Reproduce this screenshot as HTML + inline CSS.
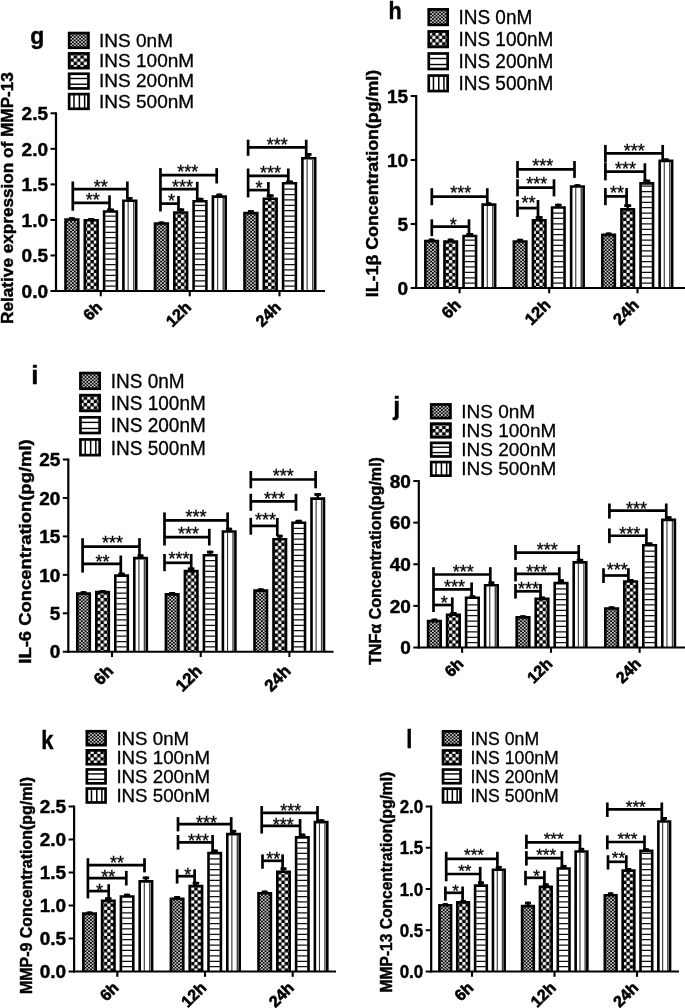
<!DOCTYPE html>
<html lang="en">
<head>
<meta charset="utf-8">
<title>Figure panels g-l: INS dose and time response</title>
<style>
html,body{margin:0;padding:0;background:#fff;}
body{width:685px;height:1008px;overflow:hidden;}
svg{display:block;will-change:transform;}
svg text{font-family:"Liberation Sans",sans-serif;fill:#000;}
</style>
</head>
<body>
<svg width="685" height="1008" viewBox="0 0 685 1008">
<defs>
<pattern id="p1" width="3.6" height="3.3" patternUnits="userSpaceOnUse">
<rect width="3.6" height="3.3" fill="#000"/>
<rect x="0.1" y="0.1" width="1.6" height="1.45" fill="#fff"/>
<rect x="1.9" y="1.75" width="1.6" height="1.45" fill="#fff"/>
</pattern>
<pattern id="p2" width="6.7" height="6.5" patternUnits="userSpaceOnUse">
<rect width="6.7" height="6.5" fill="#000"/>
<rect x="0.1" y="0.1" width="3.15" height="3.05" fill="#fff"/>
<rect x="3.45" y="3.35" width="3.15" height="3.05" fill="#fff"/>
</pattern>
</defs>
<rect width="685" height="1008" fill="#fff"/>
<g id="panel-g">
<text transform="translate(30.2 44.1) scale(1.0 1)" font-size="23" font-weight="bold" stroke="#000" stroke-width="0.4">g</text>
<rect x="69.15" y="33.05" width="19.3" height="14.7" fill="url(#p1)" stroke="#000" stroke-width="2.7"/>
<text x="99.1" y="46.6" font-size="19" stroke="#000" stroke-width="0.3">INS 0nM</text>
<rect x="69.15" y="53.4" width="19.3" height="14.7" fill="url(#p2)" stroke="#000" stroke-width="2.7"/>
<text x="99.1" y="66.95" font-size="19" stroke="#000" stroke-width="0.3">INS 100nM</text>
<rect x="69.15" y="73.75" width="19.3" height="14.7" fill="#fff" stroke="#000" stroke-width="2.7"/>
<line x1="68.8" y1="78.49" x2="88.8" y2="78.49" stroke="#000" stroke-width="1.4"/>
<line x1="68.8" y1="84.23" x2="88.8" y2="84.23" stroke="#000" stroke-width="1.4"/>
<text x="99.1" y="87.3" font-size="19" stroke="#000" stroke-width="0.3">INS 200nM</text>
<rect x="69.15" y="94.1" width="19.3" height="14.7" fill="#fff" stroke="#000" stroke-width="2.7"/>
<line x1="73.96" y1="93.75" x2="73.96" y2="109.15" stroke="#000" stroke-width="1.5"/>
<line x1="79.39" y1="93.75" x2="79.39" y2="109.15" stroke="#000" stroke-width="1.5"/>
<line x1="84.63" y1="93.75" x2="84.63" y2="109.15" stroke="#000" stroke-width="1.5"/>
<text x="99.1" y="107.65" font-size="19" stroke="#000" stroke-width="0.3">INS 500nM</text>
<path d="M65.5 291V219.5H78.3V291" fill="url(#p1)" stroke="#000" stroke-width="2.6" stroke-linejoin="miter"/>
<line x1="71.9" y1="217.2" x2="71.9" y2="219.2" stroke="#000" stroke-width="2.5"/>
<line x1="68.9" y1="218.6" x2="74.9" y2="218.6" stroke="#000" stroke-width="2.8"/>
<path d="M84.8 291V220.3H97.6V291" fill="url(#p2)" stroke="#000" stroke-width="2.6" stroke-linejoin="miter"/>
<line x1="91.2" y1="218" x2="91.2" y2="220" stroke="#000" stroke-width="2.5"/>
<line x1="88.2" y1="219.4" x2="94.2" y2="219.4" stroke="#000" stroke-width="2.8"/>
<path d="M104.1 291V211.5H116.9V291" fill="#fff" stroke="#000" stroke-width="2.6" stroke-linejoin="miter"/>
<path d="M105.2 286.15H115.8M105.2 280.76H115.8M105.2 275.37H115.8M105.2 269.98H115.8M105.2 264.59H115.8M105.2 259.2H115.8M105.2 253.81H115.8M105.2 248.42H115.8M105.2 243.03H115.8M105.2 237.64H115.8M105.2 232.25H115.8M105.2 226.86H115.8M105.2 221.47H115.8M105.2 216.08H115.8" stroke="#111" stroke-width="1.25" fill="none"/>
<line x1="110.5" y1="208.5" x2="110.5" y2="211.2" stroke="#000" stroke-width="2.5"/>
<line x1="107" y1="209.9" x2="114" y2="209.9" stroke="#000" stroke-width="2.8"/>
<path d="M123.4 291V200.8H136.2V291" fill="#fff" stroke="#000" stroke-width="2.6" stroke-linejoin="miter"/>
<path d="M128.14 201.9V291" stroke="#333" stroke-width="1.1" fill="none"/>
<path d="M133.73 201.9V291" stroke="#444" stroke-width="1.4" fill="none"/>
<line x1="129.8" y1="197" x2="129.8" y2="200.5" stroke="#000" stroke-width="2.5"/>
<line x1="127.05" y1="198.4" x2="132.55" y2="198.4" stroke="#000" stroke-width="2.8"/>
<path d="M155 291V223.5H167.8V291" fill="url(#p1)" stroke="#000" stroke-width="2.6" stroke-linejoin="miter"/>
<line x1="161.4" y1="221.5" x2="161.4" y2="223.2" stroke="#000" stroke-width="2.5"/>
<line x1="158.4" y1="222.9" x2="164.4" y2="222.9" stroke="#000" stroke-width="2.8"/>
<path d="M174.3 291V212.5H187.1V291" fill="url(#p2)" stroke="#000" stroke-width="2.6" stroke-linejoin="miter"/>
<line x1="180.7" y1="208.3" x2="180.7" y2="212.2" stroke="#000" stroke-width="2.5"/>
<line x1="177.2" y1="209.7" x2="184.2" y2="209.7" stroke="#000" stroke-width="2.8"/>
<path d="M193.6 291V201.3H206.4V291" fill="#fff" stroke="#000" stroke-width="2.6" stroke-linejoin="miter"/>
<path d="M194.7 286.15H205.3M194.7 280.76H205.3M194.7 275.37H205.3M194.7 269.98H205.3M194.7 264.59H205.3M194.7 259.2H205.3M194.7 253.81H205.3M194.7 248.42H205.3M194.7 243.03H205.3M194.7 237.64H205.3M194.7 232.25H205.3M194.7 226.86H205.3M194.7 221.47H205.3M194.7 216.08H205.3M194.7 210.69H205.3M194.7 205.3H205.3" stroke="#111" stroke-width="1.25" fill="none"/>
<line x1="200" y1="197.8" x2="200" y2="201" stroke="#000" stroke-width="2.5"/>
<line x1="196.5" y1="199.2" x2="203.5" y2="199.2" stroke="#000" stroke-width="2.8"/>
<path d="M212.9 291V196.6H225.7V291" fill="#fff" stroke="#000" stroke-width="2.6" stroke-linejoin="miter"/>
<path d="M217.64 197.7V291" stroke="#333" stroke-width="1.1" fill="none"/>
<path d="M223.23 197.7V291" stroke="#444" stroke-width="1.4" fill="none"/>
<line x1="219.3" y1="193.6" x2="219.3" y2="196.3" stroke="#000" stroke-width="2.5"/>
<line x1="216.3" y1="195" x2="222.3" y2="195" stroke="#000" stroke-width="2.8"/>
<path d="M244.5 291V213.1H257.3V291" fill="url(#p1)" stroke="#000" stroke-width="2.6" stroke-linejoin="miter"/>
<line x1="250.9" y1="210" x2="250.9" y2="212.8" stroke="#000" stroke-width="2.5"/>
<line x1="247.9" y1="211.4" x2="253.9" y2="211.4" stroke="#000" stroke-width="2.8"/>
<path d="M263.8 291V198.8H276.6V291" fill="url(#p2)" stroke="#000" stroke-width="2.6" stroke-linejoin="miter"/>
<line x1="270.2" y1="194.3" x2="270.2" y2="198.5" stroke="#000" stroke-width="2.5"/>
<line x1="266.7" y1="195.7" x2="273.7" y2="195.7" stroke="#000" stroke-width="2.8"/>
<path d="M283.1 291V183.3H295.9V291" fill="#fff" stroke="#000" stroke-width="2.6" stroke-linejoin="miter"/>
<path d="M284.2 286.15H294.8M284.2 280.76H294.8M284.2 275.37H294.8M284.2 269.98H294.8M284.2 264.59H294.8M284.2 259.2H294.8M284.2 253.81H294.8M284.2 248.42H294.8M284.2 243.03H294.8M284.2 237.64H294.8M284.2 232.25H294.8M284.2 226.86H294.8M284.2 221.47H294.8M284.2 216.08H294.8M284.2 210.69H294.8M284.2 205.3H294.8M284.2 199.91H294.8M284.2 194.52H294.8M284.2 189.13H294.8" stroke="#111" stroke-width="1.25" fill="none"/>
<line x1="289.5" y1="180.5" x2="289.5" y2="183" stroke="#000" stroke-width="2.5"/>
<line x1="286" y1="181.9" x2="293" y2="181.9" stroke="#000" stroke-width="2.8"/>
<path d="M302.4 291V158.3H315.2V291" fill="#fff" stroke="#000" stroke-width="2.6" stroke-linejoin="miter"/>
<path d="M307.14 159.4V291" stroke="#333" stroke-width="1.1" fill="none"/>
<path d="M312.73 159.4V291" stroke="#444" stroke-width="1.4" fill="none"/>
<line x1="308.8" y1="153" x2="308.8" y2="158" stroke="#000" stroke-width="2.5"/>
<line x1="306.05" y1="154.4" x2="311.55" y2="154.4" stroke="#000" stroke-width="2.8"/>
<line x1="56" y1="112.3" x2="56" y2="292" stroke="#000" stroke-width="2.2"/>
<line x1="55" y1="291" x2="325" y2="291" stroke="#000" stroke-width="2.2"/>
<line x1="50.5" y1="291" x2="56" y2="291" stroke="#000" stroke-width="2"/>
<text x="48" y="297.7" font-size="19" font-weight="bold" stroke="#000" stroke-width="0.45" text-anchor="end">0.0</text>
<line x1="50.5" y1="255.46" x2="56" y2="255.46" stroke="#000" stroke-width="2"/>
<text x="48" y="262.16" font-size="19" font-weight="bold" stroke="#000" stroke-width="0.45" text-anchor="end">0.5</text>
<line x1="50.5" y1="219.92" x2="56" y2="219.92" stroke="#000" stroke-width="2"/>
<text x="48" y="226.62" font-size="19" font-weight="bold" stroke="#000" stroke-width="0.45" text-anchor="end">1.0</text>
<line x1="50.5" y1="184.38" x2="56" y2="184.38" stroke="#000" stroke-width="2"/>
<text x="48" y="191.08" font-size="19" font-weight="bold" stroke="#000" stroke-width="0.45" text-anchor="end">1.5</text>
<line x1="50.5" y1="148.84" x2="56" y2="148.84" stroke="#000" stroke-width="2"/>
<text x="48" y="155.54" font-size="19" font-weight="bold" stroke="#000" stroke-width="0.45" text-anchor="end">2.0</text>
<line x1="50.5" y1="113.3" x2="56" y2="113.3" stroke="#000" stroke-width="2"/>
<text x="48" y="120" font-size="19" font-weight="bold" stroke="#000" stroke-width="0.45" text-anchor="end">2.5</text>
<line x1="100.75" y1="291" x2="100.75" y2="296.3" stroke="#000" stroke-width="2.1"/>
<text x="103.05" y="308.3" font-size="16" font-weight="bold" stroke="#000" stroke-width="0.6" text-anchor="end" transform="rotate(-45 103.05 308.3)">6h</text>
<line x1="189.75" y1="291" x2="189.75" y2="296.3" stroke="#000" stroke-width="2.1"/>
<text x="192.05" y="308.3" font-size="16" font-weight="bold" stroke="#000" stroke-width="0.6" text-anchor="end" transform="rotate(-45 192.05 308.3)">12h</text>
<line x1="279.5" y1="291" x2="279.5" y2="296.3" stroke="#000" stroke-width="2.1"/>
<text x="281.8" y="308.3" font-size="16" font-weight="bold" stroke="#000" stroke-width="0.6" text-anchor="end" transform="rotate(-45 281.8 308.3)">24h</text>
<text x="12.9" y="198" font-size="17" font-weight="bold" stroke="#000" stroke-width="0.45" text-anchor="middle" transform="rotate(-90 12.9 198)" textLength="251.8" lengthAdjust="spacingAndGlyphs">Relative expression of MMP-13</text>
<line x1="72.8" y1="189.2" x2="127.35" y2="189.2" stroke="#000" stroke-width="2.7"/>
<line x1="72.8" y1="181.5" x2="72.8" y2="210.7" stroke="#000" stroke-width="2.7"/>
<line x1="127.35" y1="181.5" x2="127.35" y2="199.5" stroke="#000" stroke-width="2.7"/>
<text x="100.7" y="193" font-size="18" stroke="#000" stroke-width="0.3" text-anchor="middle">**</text>
<line x1="72.8" y1="202.8" x2="109.5" y2="202.8" stroke="#000" stroke-width="2.7"/>
<line x1="109.5" y1="195.3" x2="109.5" y2="210.4" stroke="#000" stroke-width="2.7"/>
<text x="92.8" y="206.4" font-size="18" stroke="#000" stroke-width="0.3" text-anchor="middle">**</text>
<line x1="160.45" y1="175.2" x2="216.7" y2="175.2" stroke="#000" stroke-width="2.7"/>
<line x1="160.45" y1="168.1" x2="160.45" y2="211.5" stroke="#000" stroke-width="2.7"/>
<line x1="216.7" y1="168.1" x2="216.7" y2="183.5" stroke="#000" stroke-width="2.7"/>
<text x="187.8" y="178.1" font-size="18" stroke="#000" stroke-width="0.3" text-anchor="middle">***</text>
<line x1="160.45" y1="189.2" x2="197.25" y2="189.2" stroke="#000" stroke-width="2.7"/>
<line x1="197.25" y1="181.8" x2="197.25" y2="200" stroke="#000" stroke-width="2.7"/>
<text x="182.4" y="192.6" font-size="18" stroke="#000" stroke-width="0.3" text-anchor="middle">***</text>
<line x1="160.45" y1="203.6" x2="178.5" y2="203.6" stroke="#000" stroke-width="2.7"/>
<line x1="178.5" y1="196" x2="178.5" y2="211" stroke="#000" stroke-width="2.7"/>
<text x="171.4" y="207.4" font-size="18" stroke="#000" stroke-width="0.3" text-anchor="middle">*</text>
<line x1="248.1" y1="147.3" x2="306.2" y2="147.3" stroke="#000" stroke-width="2.7"/>
<line x1="248.1" y1="139.7" x2="248.1" y2="155.8" stroke="#000" stroke-width="2.7"/>
<line x1="306.2" y1="139.7" x2="306.2" y2="157" stroke="#000" stroke-width="2.7"/>
<text x="277.2" y="151.2" font-size="18" stroke="#000" stroke-width="0.3" text-anchor="middle">***</text>
<line x1="248.1" y1="175.8" x2="288.3" y2="175.8" stroke="#000" stroke-width="2.7"/>
<line x1="248.1" y1="168.5" x2="248.1" y2="197.4" stroke="#000" stroke-width="2.7"/>
<line x1="288.3" y1="168.5" x2="288.3" y2="182" stroke="#000" stroke-width="2.7"/>
<text x="270.6" y="178.5" font-size="18" stroke="#000" stroke-width="0.3" text-anchor="middle">***</text>
<line x1="248.1" y1="190.1" x2="268.4" y2="190.1" stroke="#000" stroke-width="2.7"/>
<line x1="268.4" y1="182" x2="268.4" y2="197.5" stroke="#000" stroke-width="2.7"/>
<text x="258.9" y="194.3" font-size="18" stroke="#000" stroke-width="0.3" text-anchor="middle">*</text>
</g>
<g id="panel-h">
<text transform="translate(388.4 19) scale(0.9 1)" font-size="24" font-weight="bold" stroke="#000" stroke-width="0.4">h</text>
<rect x="428.75" y="9.35" width="18.9" height="15.5" fill="url(#p1)" stroke="#000" stroke-width="2.7"/>
<text transform="translate(458.4 24.1) scale(1.0 1.05)" font-size="19" stroke="#000" stroke-width="0.3">INS 0nM</text>
<rect x="428.75" y="31.42" width="18.9" height="15.5" fill="url(#p2)" stroke="#000" stroke-width="2.7"/>
<text transform="translate(458.4 46.17) scale(1.0 1.05)" font-size="19" stroke="#000" stroke-width="0.3">INS 100nM</text>
<rect x="428.75" y="53.49" width="18.9" height="15.5" fill="#fff" stroke="#000" stroke-width="2.7"/>
<line x1="428.4" y1="58.51" x2="448" y2="58.51" stroke="#000" stroke-width="1.4"/>
<line x1="428.4" y1="64.52" x2="448" y2="64.52" stroke="#000" stroke-width="1.4"/>
<text transform="translate(458.4 68.24) scale(1.0 1.05)" font-size="19" stroke="#000" stroke-width="0.3">INS 200nM</text>
<rect x="428.75" y="75.56" width="18.9" height="15.5" fill="#fff" stroke="#000" stroke-width="2.7"/>
<line x1="433.45" y1="75.21" x2="433.45" y2="91.41" stroke="#000" stroke-width="1.5"/>
<line x1="438.78" y1="75.21" x2="438.78" y2="91.41" stroke="#000" stroke-width="1.5"/>
<line x1="443.92" y1="75.21" x2="443.92" y2="91.41" stroke="#000" stroke-width="1.5"/>
<text transform="translate(458.4 90.31) scale(1.0 1.05)" font-size="19" stroke="#000" stroke-width="0.3">INS 500nM</text>
<path d="M425.35 288V241.1H437.85V288" fill="url(#p1)" stroke="#000" stroke-width="2.6" stroke-linejoin="miter"/>
<line x1="431.6" y1="238.6" x2="431.6" y2="240.8" stroke="#000" stroke-width="2.5"/>
<line x1="428.6" y1="240" x2="434.6" y2="240" stroke="#000" stroke-width="2.8"/>
<path d="M444.45 288V241.5H456.95V288" fill="url(#p2)" stroke="#000" stroke-width="2.6" stroke-linejoin="miter"/>
<line x1="450.7" y1="238.6" x2="450.7" y2="241.2" stroke="#000" stroke-width="2.5"/>
<line x1="447.7" y1="240" x2="453.7" y2="240" stroke="#000" stroke-width="2.8"/>
<path d="M463.55 288V236H476.05V288" fill="#fff" stroke="#000" stroke-width="2.6" stroke-linejoin="miter"/>
<path d="M464.65 283.15H474.95M464.65 277.76H474.95M464.65 272.37H474.95M464.65 266.98H474.95M464.65 261.59H474.95M464.65 256.2H474.95M464.65 250.81H474.95M464.65 245.42H474.95M464.65 240.03H474.95" stroke="#111" stroke-width="1.25" fill="none"/>
<line x1="469.8" y1="233" x2="469.8" y2="235.7" stroke="#000" stroke-width="2.5"/>
<line x1="466.3" y1="234.4" x2="473.3" y2="234.4" stroke="#000" stroke-width="2.8"/>
<path d="M482.65 288V204.6H495.15V288" fill="#fff" stroke="#000" stroke-width="2.6" stroke-linejoin="miter"/>
<path d="M487.27 205.7V288" stroke="#333" stroke-width="1.1" fill="none"/>
<path d="M492.75 205.7V288" stroke="#444" stroke-width="1.4" fill="none"/>
<line x1="488.9" y1="202.3" x2="488.9" y2="204.3" stroke="#000" stroke-width="2.5"/>
<line x1="486.4" y1="203.7" x2="491.4" y2="203.7" stroke="#000" stroke-width="2.8"/>
<path d="M513.85 288V241.5H526.35V288" fill="url(#p1)" stroke="#000" stroke-width="2.6" stroke-linejoin="miter"/>
<line x1="520.1" y1="238.8" x2="520.1" y2="241.2" stroke="#000" stroke-width="2.5"/>
<line x1="517.1" y1="240.2" x2="523.1" y2="240.2" stroke="#000" stroke-width="2.8"/>
<path d="M532.95 288V220.3H545.45V288" fill="url(#p2)" stroke="#000" stroke-width="2.6" stroke-linejoin="miter"/>
<line x1="539.2" y1="216.1" x2="539.2" y2="220" stroke="#000" stroke-width="2.5"/>
<line x1="535.7" y1="217.5" x2="542.7" y2="217.5" stroke="#000" stroke-width="2.8"/>
<path d="M552.05 288V207.5H564.55V288" fill="#fff" stroke="#000" stroke-width="2.6" stroke-linejoin="miter"/>
<path d="M553.15 283.15H563.45M553.15 277.76H563.45M553.15 272.37H563.45M553.15 266.98H563.45M553.15 261.59H563.45M553.15 256.2H563.45M553.15 250.81H563.45M553.15 245.42H563.45M553.15 240.03H563.45M553.15 234.64H563.45M553.15 229.25H563.45M553.15 223.86H563.45M553.15 218.47H563.45M553.15 213.08H563.45" stroke="#111" stroke-width="1.25" fill="none"/>
<line x1="558.3" y1="203.7" x2="558.3" y2="207.2" stroke="#000" stroke-width="2.5"/>
<line x1="555.05" y1="205.1" x2="561.55" y2="205.1" stroke="#000" stroke-width="2.8"/>
<path d="M571.15 288V186.5H583.65V288" fill="#fff" stroke="#000" stroke-width="2.6" stroke-linejoin="miter"/>
<path d="M575.77 187.6V288" stroke="#333" stroke-width="1.1" fill="none"/>
<path d="M581.25 187.6V288" stroke="#444" stroke-width="1.4" fill="none"/>
<line x1="577.4" y1="184.2" x2="577.4" y2="186.2" stroke="#000" stroke-width="2.5"/>
<line x1="574.4" y1="185.6" x2="580.4" y2="185.6" stroke="#000" stroke-width="2.8"/>
<path d="M602.35 288V234.9H614.85V288" fill="url(#p1)" stroke="#000" stroke-width="2.6" stroke-linejoin="miter"/>
<line x1="608.6" y1="232.5" x2="608.6" y2="234.6" stroke="#000" stroke-width="2.5"/>
<line x1="605.6" y1="233.9" x2="611.6" y2="233.9" stroke="#000" stroke-width="2.8"/>
<path d="M621.45 288V209.4H633.95V288" fill="url(#p2)" stroke="#000" stroke-width="2.6" stroke-linejoin="miter"/>
<line x1="627.7" y1="204.2" x2="627.7" y2="209.1" stroke="#000" stroke-width="2.5"/>
<line x1="624.2" y1="205.6" x2="631.2" y2="205.6" stroke="#000" stroke-width="2.8"/>
<path d="M640.55 288V183.4H653.05V288" fill="#fff" stroke="#000" stroke-width="2.6" stroke-linejoin="miter"/>
<path d="M641.65 283.15H651.95M641.65 277.76H651.95M641.65 272.37H651.95M641.65 266.98H651.95M641.65 261.59H651.95M641.65 256.2H651.95M641.65 250.81H651.95M641.65 245.42H651.95M641.65 240.03H651.95M641.65 234.64H651.95M641.65 229.25H651.95M641.65 223.86H651.95M641.65 218.47H651.95M641.65 213.08H651.95M641.65 207.69H651.95M641.65 202.3H651.95M641.65 196.91H651.95M641.65 191.52H651.95M641.65 186.13H651.95" stroke="#111" stroke-width="1.25" fill="none"/>
<line x1="646.8" y1="179.6" x2="646.8" y2="183.1" stroke="#000" stroke-width="2.5"/>
<line x1="643.3" y1="181" x2="650.3" y2="181" stroke="#000" stroke-width="2.8"/>
<path d="M659.65 288V160.9H672.15V288" fill="#fff" stroke="#000" stroke-width="2.6" stroke-linejoin="miter"/>
<path d="M664.27 162V288" stroke="#333" stroke-width="1.1" fill="none"/>
<path d="M669.75 162V288" stroke="#444" stroke-width="1.4" fill="none"/>
<line x1="665.9" y1="158.4" x2="665.9" y2="160.6" stroke="#000" stroke-width="2.5"/>
<line x1="662.9" y1="159.8" x2="668.9" y2="159.8" stroke="#000" stroke-width="2.8"/>
<line x1="416.2" y1="95" x2="416.2" y2="289" stroke="#000" stroke-width="2.2"/>
<line x1="415.2" y1="288" x2="686" y2="288" stroke="#000" stroke-width="2.2"/>
<line x1="410.7" y1="288" x2="416.2" y2="288" stroke="#000" stroke-width="2"/>
<text x="408.2" y="294.7" font-size="19" font-weight="bold" stroke="#000" stroke-width="0.45" text-anchor="end">0</text>
<line x1="410.7" y1="224" x2="416.2" y2="224" stroke="#000" stroke-width="2"/>
<text x="408.2" y="230.7" font-size="19" font-weight="bold" stroke="#000" stroke-width="0.45" text-anchor="end">5</text>
<line x1="410.7" y1="160" x2="416.2" y2="160" stroke="#000" stroke-width="2"/>
<text x="408.2" y="166.7" font-size="19" font-weight="bold" stroke="#000" stroke-width="0.45" text-anchor="end">10</text>
<line x1="410.7" y1="96" x2="416.2" y2="96" stroke="#000" stroke-width="2"/>
<text x="408.2" y="102.7" font-size="19" font-weight="bold" stroke="#000" stroke-width="0.45" text-anchor="end">15</text>
<line x1="459.6" y1="288" x2="459.6" y2="293.3" stroke="#000" stroke-width="2.1"/>
<text x="461.9" y="306" font-size="16.4" font-weight="bold" stroke="#000" stroke-width="0.6" text-anchor="end" transform="rotate(-45 461.9 306)">6h</text>
<line x1="549.2" y1="288" x2="549.2" y2="293.3" stroke="#000" stroke-width="2.1"/>
<text x="551.5" y="306" font-size="16.4" font-weight="bold" stroke="#000" stroke-width="0.6" text-anchor="end" transform="rotate(-45 551.5 306)">12h</text>
<line x1="637.5" y1="288" x2="637.5" y2="293.3" stroke="#000" stroke-width="2.1"/>
<text x="639.8" y="306" font-size="16.4" font-weight="bold" stroke="#000" stroke-width="0.6" text-anchor="end" transform="rotate(-45 639.8 306)">24h</text>
<text x="378.2" y="183.5" font-size="16.5" font-weight="bold" stroke="#000" stroke-width="0.45" text-anchor="middle" transform="rotate(-90 378.2 183.5)" textLength="227.5" lengthAdjust="spacingAndGlyphs">IL-1β Concentration(pg/ml)</text>
<line x1="431.8" y1="196.7" x2="487.3" y2="196.7" stroke="#000" stroke-width="2.7"/>
<line x1="431.8" y1="188.2" x2="431.8" y2="205.2" stroke="#000" stroke-width="2.7"/>
<line x1="487.3" y1="188.2" x2="487.3" y2="204" stroke="#000" stroke-width="2.7"/>
<text x="460.7" y="199.2" font-size="18" stroke="#000" stroke-width="0.3" text-anchor="middle">***</text>
<line x1="431.8" y1="226.6" x2="469" y2="226.6" stroke="#000" stroke-width="2.7"/>
<line x1="431.8" y1="219.3" x2="431.8" y2="236.1" stroke="#000" stroke-width="2.7"/>
<line x1="469" y1="219.3" x2="469" y2="235" stroke="#000" stroke-width="2.7"/>
<text x="453.2" y="230.9" font-size="18" stroke="#000" stroke-width="0.3" text-anchor="middle">*</text>
<line x1="517.5" y1="169.4" x2="574.5" y2="169.4" stroke="#000" stroke-width="2.7"/>
<line x1="517.5" y1="161" x2="517.5" y2="177.9" stroke="#000" stroke-width="2.7"/>
<line x1="574.5" y1="161" x2="574.5" y2="177.9" stroke="#000" stroke-width="2.7"/>
<text x="542.8" y="171.5" font-size="18" stroke="#000" stroke-width="0.3" text-anchor="middle">***</text>
<line x1="517.5" y1="187.7" x2="554" y2="187.7" stroke="#000" stroke-width="2.7"/>
<line x1="517.5" y1="179.3" x2="517.5" y2="196.4" stroke="#000" stroke-width="2.7"/>
<line x1="554" y1="179.3" x2="554" y2="196.4" stroke="#000" stroke-width="2.7"/>
<text x="536.8" y="190.4" font-size="18" stroke="#000" stroke-width="0.3" text-anchor="middle">***</text>
<line x1="517.5" y1="208.1" x2="538" y2="208.1" stroke="#000" stroke-width="2.7"/>
<line x1="517.5" y1="200" x2="517.5" y2="216.9" stroke="#000" stroke-width="2.7"/>
<line x1="538" y1="200" x2="538" y2="217" stroke="#000" stroke-width="2.7"/>
<text x="528.6" y="209.4" font-size="18" stroke="#000" stroke-width="0.3" text-anchor="middle">**</text>
<line x1="605.4" y1="153.4" x2="662.7" y2="153.4" stroke="#000" stroke-width="2.7"/>
<line x1="605.4" y1="144.9" x2="605.4" y2="162.1" stroke="#000" stroke-width="2.7"/>
<line x1="662.7" y1="144.9" x2="662.7" y2="160" stroke="#000" stroke-width="2.7"/>
<text x="634.2" y="157.2" font-size="18" stroke="#000" stroke-width="0.3" text-anchor="middle">***</text>
<line x1="605.4" y1="171.6" x2="644.9" y2="171.6" stroke="#000" stroke-width="2.7"/>
<line x1="605.4" y1="162.4" x2="605.4" y2="180.4" stroke="#000" stroke-width="2.7"/>
<line x1="644.9" y1="163.3" x2="644.9" y2="181" stroke="#000" stroke-width="2.7"/>
<text x="625.4" y="174.8" font-size="18" stroke="#000" stroke-width="0.3" text-anchor="middle">***</text>
<line x1="605.4" y1="196.4" x2="626.6" y2="196.4" stroke="#000" stroke-width="2.7"/>
<line x1="605.4" y1="188" x2="605.4" y2="205.2" stroke="#000" stroke-width="2.7"/>
<line x1="626.6" y1="188" x2="626.6" y2="205" stroke="#000" stroke-width="2.7"/>
<text x="617.1" y="198.8" font-size="18" stroke="#000" stroke-width="0.3" text-anchor="middle">**</text>
</g>
<g id="panel-i">
<text transform="translate(31.3 384.1) scale(1.0 1)" font-size="26" font-weight="bold" stroke="#000" stroke-width="0.4">i</text>
<rect x="80.45" y="373.05" width="19.2" height="15.7" fill="url(#p1)" stroke="#000" stroke-width="2.7"/>
<text transform="translate(110.8 388.2) scale(1.0 1.07)" font-size="19" stroke="#000" stroke-width="0.3">INS 0nM</text>
<rect x="80.45" y="395.18" width="19.2" height="15.7" fill="url(#p2)" stroke="#000" stroke-width="2.7"/>
<text transform="translate(110.8 410.33) scale(1.0 1.07)" font-size="19" stroke="#000" stroke-width="0.3">INS 100nM</text>
<rect x="80.45" y="417.31" width="19.2" height="15.7" fill="#fff" stroke="#000" stroke-width="2.7"/>
<line x1="80.1" y1="422.4" x2="100" y2="422.4" stroke="#000" stroke-width="1.4"/>
<line x1="80.1" y1="428.47" x2="100" y2="428.47" stroke="#000" stroke-width="1.4"/>
<text transform="translate(110.8 432.46) scale(1.0 1.07)" font-size="19" stroke="#000" stroke-width="0.3">INS 200nM</text>
<rect x="80.45" y="439.44" width="19.2" height="15.7" fill="#fff" stroke="#000" stroke-width="2.7"/>
<line x1="85.23" y1="439.09" x2="85.23" y2="455.49" stroke="#000" stroke-width="1.5"/>
<line x1="90.64" y1="439.09" x2="90.64" y2="455.49" stroke="#000" stroke-width="1.5"/>
<line x1="95.85" y1="439.09" x2="95.85" y2="455.49" stroke="#000" stroke-width="1.5"/>
<text transform="translate(110.8 454.59) scale(1.0 1.07)" font-size="19" stroke="#000" stroke-width="0.3">INS 500nM</text>
<path d="M77.3 651.75V593.6H89.8V651.75" fill="url(#p1)" stroke="#000" stroke-width="2.6" stroke-linejoin="miter"/>
<line x1="83.55" y1="591.2" x2="83.55" y2="593.3" stroke="#000" stroke-width="2.5"/>
<line x1="80.55" y1="592.6" x2="86.55" y2="592.6" stroke="#000" stroke-width="2.8"/>
<path d="M96.3 651.75V592.1H108.8V651.75" fill="url(#p2)" stroke="#000" stroke-width="2.6" stroke-linejoin="miter"/>
<line x1="102.55" y1="590" x2="102.55" y2="591.8" stroke="#000" stroke-width="2.5"/>
<line x1="99.55" y1="591.4" x2="105.55" y2="591.4" stroke="#000" stroke-width="2.8"/>
<path d="M115.3 651.75V575.6H127.8V651.75" fill="#fff" stroke="#000" stroke-width="2.6" stroke-linejoin="miter"/>
<path d="M116.4 646.9H126.7M116.4 641.51H126.7M116.4 636.12H126.7M116.4 630.73H126.7M116.4 625.34H126.7M116.4 619.95H126.7M116.4 614.56H126.7M116.4 609.17H126.7M116.4 603.78H126.7M116.4 598.39H126.7M116.4 593H126.7M116.4 587.61H126.7M116.4 582.22H126.7" stroke="#111" stroke-width="1.25" fill="none"/>
<line x1="121.55" y1="572.6" x2="121.55" y2="575.3" stroke="#000" stroke-width="2.5"/>
<line x1="118.3" y1="574" x2="124.8" y2="574" stroke="#000" stroke-width="2.8"/>
<path d="M134.3 651.75V558.1H146.8V651.75" fill="#fff" stroke="#000" stroke-width="2.6" stroke-linejoin="miter"/>
<path d="M138.92 559.2V651.75" stroke="#333" stroke-width="1.1" fill="none"/>
<path d="M144.4 559.2V651.75" stroke="#444" stroke-width="1.4" fill="none"/>
<line x1="140.55" y1="554.3" x2="140.55" y2="557.8" stroke="#000" stroke-width="2.5"/>
<line x1="137.55" y1="555.7" x2="143.55" y2="555.7" stroke="#000" stroke-width="2.8"/>
<path d="M165.9 651.75V594.4H178.4V651.75" fill="url(#p1)" stroke="#000" stroke-width="2.6" stroke-linejoin="miter"/>
<line x1="172.15" y1="592" x2="172.15" y2="594.1" stroke="#000" stroke-width="2.5"/>
<line x1="169.15" y1="593.4" x2="175.15" y2="593.4" stroke="#000" stroke-width="2.8"/>
<path d="M184.9 651.75V571.1H197.4V651.75" fill="url(#p2)" stroke="#000" stroke-width="2.6" stroke-linejoin="miter"/>
<line x1="191.15" y1="567.4" x2="191.15" y2="570.8" stroke="#000" stroke-width="2.5"/>
<line x1="187.9" y1="568.8" x2="194.4" y2="568.8" stroke="#000" stroke-width="2.8"/>
<path d="M203.9 651.75V555.3H216.4V651.75" fill="#fff" stroke="#000" stroke-width="2.6" stroke-linejoin="miter"/>
<path d="M205 646.9H215.3M205 641.51H215.3M205 636.12H215.3M205 630.73H215.3M205 625.34H215.3M205 619.95H215.3M205 614.56H215.3M205 609.17H215.3M205 603.78H215.3M205 598.39H215.3M205 593H215.3M205 587.61H215.3M205 582.22H215.3M205 576.83H215.3M205 571.44H215.3M205 566.05H215.3M205 560.66H215.3" stroke="#111" stroke-width="1.25" fill="none"/>
<line x1="210.15" y1="550.7" x2="210.15" y2="555" stroke="#000" stroke-width="2.5"/>
<line x1="206.9" y1="552.1" x2="213.4" y2="552.1" stroke="#000" stroke-width="2.8"/>
<path d="M222.9 651.75V531.5H235.4V651.75" fill="#fff" stroke="#000" stroke-width="2.6" stroke-linejoin="miter"/>
<path d="M227.52 532.6V651.75" stroke="#333" stroke-width="1.1" fill="none"/>
<path d="M233 532.6V651.75" stroke="#444" stroke-width="1.4" fill="none"/>
<line x1="229.15" y1="527.7" x2="229.15" y2="531.2" stroke="#000" stroke-width="2.5"/>
<line x1="226.15" y1="529.1" x2="232.15" y2="529.1" stroke="#000" stroke-width="2.8"/>
<path d="M254.5 651.75V590.6H267V651.75" fill="url(#p1)" stroke="#000" stroke-width="2.6" stroke-linejoin="miter"/>
<line x1="260.75" y1="588.3" x2="260.75" y2="590.3" stroke="#000" stroke-width="2.5"/>
<line x1="257.75" y1="589.7" x2="263.75" y2="589.7" stroke="#000" stroke-width="2.8"/>
<path d="M273.5 651.75V539.2H286V651.75" fill="url(#p2)" stroke="#000" stroke-width="2.6" stroke-linejoin="miter"/>
<line x1="279.75" y1="534.7" x2="279.75" y2="538.9" stroke="#000" stroke-width="2.5"/>
<line x1="276.75" y1="536.1" x2="282.75" y2="536.1" stroke="#000" stroke-width="2.8"/>
<path d="M292.5 651.75V522.7H305V651.75" fill="#fff" stroke="#000" stroke-width="2.6" stroke-linejoin="miter"/>
<path d="M293.6 646.9H303.9M293.6 641.51H303.9M293.6 636.12H303.9M293.6 630.73H303.9M293.6 625.34H303.9M293.6 619.95H303.9M293.6 614.56H303.9M293.6 609.17H303.9M293.6 603.78H303.9M293.6 598.39H303.9M293.6 593H303.9M293.6 587.61H303.9M293.6 582.22H303.9M293.6 576.83H303.9M293.6 571.44H303.9M293.6 566.05H303.9M293.6 560.66H303.9M293.6 555.27H303.9M293.6 549.88H303.9M293.6 544.49H303.9M293.6 539.1H303.9M293.6 533.71H303.9M293.6 528.32H303.9" stroke="#111" stroke-width="1.25" fill="none"/>
<line x1="298.75" y1="519.8" x2="298.75" y2="522.4" stroke="#000" stroke-width="2.5"/>
<line x1="295.5" y1="521.2" x2="302" y2="521.2" stroke="#000" stroke-width="2.8"/>
<path d="M311.5 651.75V498.6H324V651.75" fill="#fff" stroke="#000" stroke-width="2.6" stroke-linejoin="miter"/>
<path d="M316.12 499.7V651.75" stroke="#333" stroke-width="1.1" fill="none"/>
<path d="M321.6 499.7V651.75" stroke="#444" stroke-width="1.4" fill="none"/>
<line x1="317.75" y1="493.1" x2="317.75" y2="498.3" stroke="#000" stroke-width="2.5"/>
<line x1="314.35" y1="494.5" x2="321.15" y2="494.5" stroke="#000" stroke-width="2.8"/>
<line x1="68.3" y1="458.5" x2="68.3" y2="652.75" stroke="#000" stroke-width="2.2"/>
<line x1="67.3" y1="651.75" x2="333.5" y2="651.75" stroke="#000" stroke-width="2.2"/>
<line x1="62.8" y1="651.75" x2="68.3" y2="651.75" stroke="#000" stroke-width="2"/>
<text x="60.3" y="658.45" font-size="19" font-weight="bold" stroke="#000" stroke-width="0.45" text-anchor="end">0</text>
<line x1="62.8" y1="613.3" x2="68.3" y2="613.3" stroke="#000" stroke-width="2"/>
<text x="60.3" y="620" font-size="19" font-weight="bold" stroke="#000" stroke-width="0.45" text-anchor="end">5</text>
<line x1="62.8" y1="574.85" x2="68.3" y2="574.85" stroke="#000" stroke-width="2"/>
<text x="60.3" y="581.55" font-size="19" font-weight="bold" stroke="#000" stroke-width="0.45" text-anchor="end">10</text>
<line x1="62.8" y1="536.4" x2="68.3" y2="536.4" stroke="#000" stroke-width="2"/>
<text x="60.3" y="543.1" font-size="19" font-weight="bold" stroke="#000" stroke-width="0.45" text-anchor="end">15</text>
<line x1="62.8" y1="497.95" x2="68.3" y2="497.95" stroke="#000" stroke-width="2"/>
<text x="60.3" y="504.65" font-size="19" font-weight="bold" stroke="#000" stroke-width="0.45" text-anchor="end">20</text>
<line x1="62.8" y1="459.5" x2="68.3" y2="459.5" stroke="#000" stroke-width="2"/>
<text x="60.3" y="466.2" font-size="19" font-weight="bold" stroke="#000" stroke-width="0.45" text-anchor="end">25</text>
<line x1="112" y1="651.75" x2="112" y2="657.05" stroke="#000" stroke-width="2.1"/>
<text x="114.3" y="672.05" font-size="16.8" font-weight="bold" stroke="#000" stroke-width="0.6" text-anchor="end" transform="rotate(-45 114.3 672.05)">6h</text>
<line x1="200.75" y1="651.75" x2="200.75" y2="657.05" stroke="#000" stroke-width="2.1"/>
<text x="203.05" y="672.05" font-size="16.8" font-weight="bold" stroke="#000" stroke-width="0.6" text-anchor="end" transform="rotate(-45 203.05 672.05)">12h</text>
<line x1="289.4" y1="651.75" x2="289.4" y2="657.05" stroke="#000" stroke-width="2.1"/>
<text x="291.7" y="672.05" font-size="16.8" font-weight="bold" stroke="#000" stroke-width="0.6" text-anchor="end" transform="rotate(-45 291.7 672.05)">24h</text>
<text x="30.6" y="551.5" font-size="16.9" font-weight="bold" stroke="#000" stroke-width="0.45" text-anchor="middle" transform="rotate(-90 30.6 551.5)" textLength="224.4" lengthAdjust="spacingAndGlyphs">IL-6 Concentration(pg/ml)</text>
<line x1="82.6" y1="546.7" x2="139.5" y2="546.7" stroke="#000" stroke-width="2.7"/>
<line x1="82.6" y1="538.2" x2="82.6" y2="572.6" stroke="#000" stroke-width="2.7"/>
<line x1="139.5" y1="538.2" x2="139.5" y2="557" stroke="#000" stroke-width="2.7"/>
<text x="112.5" y="548.8" font-size="18" stroke="#000" stroke-width="0.3" text-anchor="middle">***</text>
<line x1="82.6" y1="563.8" x2="120.8" y2="563.8" stroke="#000" stroke-width="2.7"/>
<line x1="120.8" y1="555.5" x2="120.8" y2="575" stroke="#000" stroke-width="2.7"/>
<text x="102.6" y="567.7" font-size="18" stroke="#000" stroke-width="0.3" text-anchor="middle">**</text>
<line x1="164.5" y1="520.4" x2="227.6" y2="520.4" stroke="#000" stroke-width="2.7"/>
<line x1="164.5" y1="512.4" x2="164.5" y2="545.5" stroke="#000" stroke-width="2.7"/>
<line x1="227.6" y1="512.4" x2="227.6" y2="530.5" stroke="#000" stroke-width="2.7"/>
<text x="195.9" y="522.9" font-size="18" stroke="#000" stroke-width="0.3" text-anchor="middle">***</text>
<line x1="164.5" y1="537.2" x2="209.3" y2="537.2" stroke="#000" stroke-width="2.7"/>
<line x1="209.3" y1="528.8" x2="209.3" y2="545.5" stroke="#000" stroke-width="2.7"/>
<text x="188.6" y="540" font-size="18" stroke="#000" stroke-width="0.3" text-anchor="middle">***</text>
<line x1="164.5" y1="562.8" x2="191.2" y2="562.8" stroke="#000" stroke-width="2.7"/>
<line x1="164.5" y1="554" x2="164.5" y2="571.2" stroke="#000" stroke-width="2.7"/>
<line x1="191.2" y1="554" x2="191.2" y2="570.5" stroke="#000" stroke-width="2.7"/>
<text x="179.1" y="564.8" font-size="18" stroke="#000" stroke-width="0.3" text-anchor="middle">***</text>
<line x1="250.8" y1="479.5" x2="315.6" y2="479.5" stroke="#000" stroke-width="2.7"/>
<line x1="250.8" y1="471" x2="250.8" y2="488.3" stroke="#000" stroke-width="2.7"/>
<line x1="315.6" y1="471" x2="315.6" y2="488.3" stroke="#000" stroke-width="2.7"/>
<text x="283.2" y="482.3" font-size="18" stroke="#000" stroke-width="0.3" text-anchor="middle">***</text>
<line x1="250.8" y1="501.4" x2="296" y2="501.4" stroke="#000" stroke-width="2.7"/>
<line x1="250.8" y1="493.8" x2="250.8" y2="510.8" stroke="#000" stroke-width="2.7"/>
<line x1="296" y1="493.8" x2="296" y2="510.8" stroke="#000" stroke-width="2.7"/>
<text x="274.6" y="504.6" font-size="18" stroke="#000" stroke-width="0.3" text-anchor="middle">***</text>
<line x1="250.8" y1="525.9" x2="277.3" y2="525.9" stroke="#000" stroke-width="2.7"/>
<line x1="250.8" y1="517.9" x2="250.8" y2="534.7" stroke="#000" stroke-width="2.7"/>
<line x1="277.3" y1="517.9" x2="277.3" y2="536" stroke="#000" stroke-width="2.7"/>
<text x="265.6" y="526.4" font-size="18" stroke="#000" stroke-width="0.3" text-anchor="middle">***</text>
</g>
<g id="panel-j">
<text transform="translate(393.3 414.6) scale(1.0 1)" font-size="25" font-weight="bold" stroke="#000" stroke-width="0.4">j</text>
<rect x="431.25" y="404.45" width="19.2" height="13.6" fill="url(#p1)" stroke="#000" stroke-width="2.7"/>
<text transform="translate(461.3 417.7) scale(1.0 0.96)" font-size="19" stroke="#000" stroke-width="0.3">INS 0nM</text>
<rect x="431.25" y="423.65" width="19.2" height="13.6" fill="url(#p2)" stroke="#000" stroke-width="2.7"/>
<text transform="translate(461.3 436.9) scale(1.0 0.96)" font-size="19" stroke="#000" stroke-width="0.3">INS 100nM</text>
<rect x="431.25" y="442.85" width="19.2" height="13.6" fill="#fff" stroke="#000" stroke-width="2.7"/>
<line x1="430.9" y1="447.2" x2="450.8" y2="447.2" stroke="#000" stroke-width="1.4"/>
<line x1="430.9" y1="452.58" x2="450.8" y2="452.58" stroke="#000" stroke-width="1.4"/>
<text transform="translate(461.3 456.1) scale(1.0 0.96)" font-size="19" stroke="#000" stroke-width="0.3">INS 200nM</text>
<rect x="431.25" y="462.05" width="19.2" height="13.6" fill="#fff" stroke="#000" stroke-width="2.7"/>
<line x1="436.03" y1="461.7" x2="436.03" y2="476" stroke="#000" stroke-width="1.5"/>
<line x1="441.44" y1="461.7" x2="441.44" y2="476" stroke="#000" stroke-width="1.5"/>
<line x1="446.65" y1="461.7" x2="446.65" y2="476" stroke="#000" stroke-width="1.5"/>
<text transform="translate(461.3 475.3) scale(1.0 0.96)" font-size="19" stroke="#000" stroke-width="0.3">INS 500nM</text>
<path d="M428.1 647.5V621.1H440.7V647.5" fill="url(#p1)" stroke="#000" stroke-width="2.6" stroke-linejoin="miter"/>
<line x1="434.4" y1="618.6" x2="434.4" y2="620.8" stroke="#000" stroke-width="2.5"/>
<line x1="431.4" y1="620" x2="437.4" y2="620" stroke="#000" stroke-width="2.8"/>
<path d="M447.1 647.5V614.8H459.7V647.5" fill="url(#p2)" stroke="#000" stroke-width="2.6" stroke-linejoin="miter"/>
<line x1="453.4" y1="612" x2="453.4" y2="614.5" stroke="#000" stroke-width="2.5"/>
<line x1="450.15" y1="613.4" x2="456.65" y2="613.4" stroke="#000" stroke-width="2.8"/>
<path d="M466.1 647.5V597.7H478.7V647.5" fill="#fff" stroke="#000" stroke-width="2.6" stroke-linejoin="miter"/>
<path d="M467.2 642.65H477.6M467.2 637.26H477.6M467.2 631.87H477.6M467.2 626.48H477.6M467.2 621.09H477.6M467.2 615.7H477.6M467.2 610.31H477.6M467.2 604.92H477.6" stroke="#111" stroke-width="1.25" fill="none"/>
<line x1="472.4" y1="595.3" x2="472.4" y2="597.4" stroke="#000" stroke-width="2.5"/>
<line x1="469.4" y1="596.7" x2="475.4" y2="596.7" stroke="#000" stroke-width="2.8"/>
<path d="M485.1 647.5V585.2H497.7V647.5" fill="#fff" stroke="#000" stroke-width="2.6" stroke-linejoin="miter"/>
<path d="M489.76 586.3V647.5" stroke="#333" stroke-width="1.1" fill="none"/>
<path d="M495.28 586.3V647.5" stroke="#444" stroke-width="1.4" fill="none"/>
<line x1="491.4" y1="581.4" x2="491.4" y2="584.9" stroke="#000" stroke-width="2.5"/>
<line x1="488.4" y1="582.8" x2="494.4" y2="582.8" stroke="#000" stroke-width="2.8"/>
<path d="M516.7 647.5V617.4H529.3V647.5" fill="url(#p1)" stroke="#000" stroke-width="2.6" stroke-linejoin="miter"/>
<line x1="523" y1="615.3" x2="523" y2="617.1" stroke="#000" stroke-width="2.5"/>
<line x1="520" y1="616.7" x2="526" y2="616.7" stroke="#000" stroke-width="2.8"/>
<path d="M535.7 647.5V598.9H548.3V647.5" fill="url(#p2)" stroke="#000" stroke-width="2.6" stroke-linejoin="miter"/>
<line x1="542" y1="596.5" x2="542" y2="598.6" stroke="#000" stroke-width="2.5"/>
<line x1="539" y1="597.9" x2="545" y2="597.9" stroke="#000" stroke-width="2.8"/>
<path d="M554.7 647.5V583.1H567.3V647.5" fill="#fff" stroke="#000" stroke-width="2.6" stroke-linejoin="miter"/>
<path d="M555.8 642.65H566.2M555.8 637.26H566.2M555.8 631.87H566.2M555.8 626.48H566.2M555.8 621.09H566.2M555.8 615.7H566.2M555.8 610.31H566.2M555.8 604.92H566.2M555.8 599.53H566.2M555.8 594.14H566.2M555.8 588.75H566.2" stroke="#111" stroke-width="1.25" fill="none"/>
<line x1="561" y1="579.3" x2="561" y2="582.8" stroke="#000" stroke-width="2.5"/>
<line x1="558" y1="580.7" x2="564" y2="580.7" stroke="#000" stroke-width="2.8"/>
<path d="M573.7 647.5V562.4H586.3V647.5" fill="#fff" stroke="#000" stroke-width="2.6" stroke-linejoin="miter"/>
<path d="M578.36 563.5V647.5" stroke="#333" stroke-width="1.1" fill="none"/>
<path d="M583.88 563.5V647.5" stroke="#444" stroke-width="1.4" fill="none"/>
<line x1="580" y1="558.8" x2="580" y2="562.1" stroke="#000" stroke-width="2.5"/>
<line x1="576.75" y1="560.2" x2="583.25" y2="560.2" stroke="#000" stroke-width="2.8"/>
<path d="M605.3 647.5V608.5H617.9V647.5" fill="url(#p1)" stroke="#000" stroke-width="2.6" stroke-linejoin="miter"/>
<line x1="611.6" y1="606.3" x2="611.6" y2="608.2" stroke="#000" stroke-width="2.5"/>
<line x1="608.6" y1="607.7" x2="614.6" y2="607.7" stroke="#000" stroke-width="2.8"/>
<path d="M624.3 647.5V581.5H636.9V647.5" fill="url(#p2)" stroke="#000" stroke-width="2.6" stroke-linejoin="miter"/>
<line x1="630.6" y1="579" x2="630.6" y2="581.2" stroke="#000" stroke-width="2.5"/>
<line x1="627.6" y1="580.4" x2="633.6" y2="580.4" stroke="#000" stroke-width="2.8"/>
<path d="M643.3 647.5V545.3H655.9V647.5" fill="#fff" stroke="#000" stroke-width="2.6" stroke-linejoin="miter"/>
<path d="M644.4 642.65H654.8M644.4 637.26H654.8M644.4 631.87H654.8M644.4 626.48H654.8M644.4 621.09H654.8M644.4 615.7H654.8M644.4 610.31H654.8M644.4 604.92H654.8M644.4 599.53H654.8M644.4 594.14H654.8M644.4 588.75H654.8M644.4 583.36H654.8M644.4 577.97H654.8M644.4 572.58H654.8M644.4 567.19H654.8M644.4 561.8H654.8M644.4 556.41H654.8M644.4 551.02H654.8" stroke="#111" stroke-width="1.25" fill="none"/>
<line x1="649.6" y1="542.4" x2="649.6" y2="545" stroke="#000" stroke-width="2.5"/>
<line x1="646.6" y1="543.8" x2="652.6" y2="543.8" stroke="#000" stroke-width="2.8"/>
<path d="M662.3 647.5V519.9H674.9V647.5" fill="#fff" stroke="#000" stroke-width="2.6" stroke-linejoin="miter"/>
<path d="M666.96 521V647.5" stroke="#333" stroke-width="1.1" fill="none"/>
<path d="M672.48 521V647.5" stroke="#444" stroke-width="1.4" fill="none"/>
<line x1="668.6" y1="516.2" x2="668.6" y2="519.6" stroke="#000" stroke-width="2.5"/>
<line x1="665.6" y1="517.6" x2="671.6" y2="517.6" stroke="#000" stroke-width="2.8"/>
<line x1="418.8" y1="480" x2="418.8" y2="648.5" stroke="#000" stroke-width="2.2"/>
<line x1="417.8" y1="647.5" x2="686" y2="647.5" stroke="#000" stroke-width="2.2"/>
<line x1="413.3" y1="647.5" x2="418.8" y2="647.5" stroke="#000" stroke-width="2"/>
<text x="410.8" y="654.2" font-size="19" font-weight="bold" stroke="#000" stroke-width="0.45" text-anchor="end">0</text>
<line x1="413.3" y1="605.88" x2="418.8" y2="605.88" stroke="#000" stroke-width="2"/>
<text x="410.8" y="612.58" font-size="19" font-weight="bold" stroke="#000" stroke-width="0.45" text-anchor="end">20</text>
<line x1="413.3" y1="564.25" x2="418.8" y2="564.25" stroke="#000" stroke-width="2"/>
<text x="410.8" y="570.95" font-size="19" font-weight="bold" stroke="#000" stroke-width="0.45" text-anchor="end">40</text>
<line x1="413.3" y1="522.62" x2="418.8" y2="522.62" stroke="#000" stroke-width="2"/>
<text x="410.8" y="529.33" font-size="19" font-weight="bold" stroke="#000" stroke-width="0.45" text-anchor="end">60</text>
<line x1="413.3" y1="481" x2="418.8" y2="481" stroke="#000" stroke-width="2"/>
<text x="410.8" y="487.7" font-size="19" font-weight="bold" stroke="#000" stroke-width="0.45" text-anchor="end">80</text>
<line x1="462.1" y1="647.5" x2="462.1" y2="652.8" stroke="#000" stroke-width="2.1"/>
<text x="464.4" y="664.8" font-size="16" font-weight="bold" stroke="#000" stroke-width="0.6" text-anchor="end" transform="rotate(-45 464.4 664.8)">6h</text>
<line x1="551" y1="647.5" x2="551" y2="652.8" stroke="#000" stroke-width="2.1"/>
<text x="553.3" y="664.8" font-size="16" font-weight="bold" stroke="#000" stroke-width="0.6" text-anchor="end" transform="rotate(-45 553.3 664.8)">12h</text>
<line x1="639.6" y1="647.5" x2="639.6" y2="652.8" stroke="#000" stroke-width="2.1"/>
<text x="641.9" y="664.8" font-size="16" font-weight="bold" stroke="#000" stroke-width="0.6" text-anchor="end" transform="rotate(-45 641.9 664.8)">24h</text>
<text x="381.2" y="561" font-size="15.9" font-weight="bold" stroke="#000" stroke-width="0.45" text-anchor="middle" transform="rotate(-90 381.2 561)" textLength="207.9" lengthAdjust="spacingAndGlyphs">TNFα Concentration(pg/ml)</text>
<line x1="433.5" y1="574.5" x2="490.3" y2="574.5" stroke="#000" stroke-width="2.7"/>
<line x1="433.5" y1="567.2" x2="433.5" y2="612" stroke="#000" stroke-width="2.7"/>
<line x1="490.3" y1="567.2" x2="490.3" y2="584.5" stroke="#000" stroke-width="2.7"/>
<text x="463.3" y="578.3" font-size="18" stroke="#000" stroke-width="0.3" text-anchor="middle">***</text>
<line x1="433.5" y1="589.4" x2="471.6" y2="589.4" stroke="#000" stroke-width="2.7"/>
<line x1="471.6" y1="582.4" x2="471.6" y2="597" stroke="#000" stroke-width="2.7"/>
<text x="454.5" y="593.4" font-size="18" stroke="#000" stroke-width="0.3" text-anchor="middle">***</text>
<line x1="433.5" y1="605" x2="452.3" y2="605" stroke="#000" stroke-width="2.7"/>
<line x1="452.3" y1="597.4" x2="452.3" y2="614" stroke="#000" stroke-width="2.7"/>
<text x="444.3" y="609" font-size="18" stroke="#000" stroke-width="0.3" text-anchor="middle">*</text>
<line x1="515.5" y1="552.6" x2="578.7" y2="552.6" stroke="#000" stroke-width="2.7"/>
<line x1="515.5" y1="545" x2="515.5" y2="559.9" stroke="#000" stroke-width="2.7"/>
<line x1="578.7" y1="545" x2="578.7" y2="561.5" stroke="#000" stroke-width="2.7"/>
<text x="547.3" y="556.4" font-size="18" stroke="#000" stroke-width="0.3" text-anchor="middle">***</text>
<line x1="515.5" y1="573.8" x2="559.3" y2="573.8" stroke="#000" stroke-width="2.7"/>
<line x1="515.5" y1="567.2" x2="515.5" y2="581.4" stroke="#000" stroke-width="2.7"/>
<line x1="559.3" y1="567.2" x2="559.3" y2="582.5" stroke="#000" stroke-width="2.7"/>
<text x="536.8" y="578" font-size="18" stroke="#000" stroke-width="0.3" text-anchor="middle">***</text>
<line x1="515.5" y1="591.3" x2="540.5" y2="591.3" stroke="#000" stroke-width="2.7"/>
<line x1="515.5" y1="584" x2="515.5" y2="598.6" stroke="#000" stroke-width="2.7"/>
<line x1="540.5" y1="584" x2="540.5" y2="598.3" stroke="#000" stroke-width="2.7"/>
<text x="528.4" y="595.3" font-size="18" stroke="#000" stroke-width="0.3" text-anchor="middle">***</text>
<line x1="609.4" y1="510.65" x2="666.25" y2="510.65" stroke="#000" stroke-width="2.7"/>
<line x1="609.4" y1="503.5" x2="609.4" y2="518.6" stroke="#000" stroke-width="2.7"/>
<line x1="666.25" y1="503.5" x2="666.25" y2="519.3" stroke="#000" stroke-width="2.7"/>
<text x="636.5" y="515.4" font-size="18" stroke="#000" stroke-width="0.3" text-anchor="middle">***</text>
<line x1="609.4" y1="535.75" x2="646.4" y2="535.75" stroke="#000" stroke-width="2.7"/>
<line x1="609.4" y1="528.4" x2="609.4" y2="543.2" stroke="#000" stroke-width="2.7"/>
<line x1="646.4" y1="528.4" x2="646.4" y2="544.6" stroke="#000" stroke-width="2.7"/>
<text x="629.7" y="539.5" font-size="18" stroke="#000" stroke-width="0.3" text-anchor="middle">***</text>
<line x1="603.5" y1="575.5" x2="628.4" y2="575.5" stroke="#000" stroke-width="2.7"/>
<line x1="603.5" y1="568.2" x2="603.5" y2="582.9" stroke="#000" stroke-width="2.7"/>
<line x1="628.4" y1="568.2" x2="628.4" y2="581" stroke="#000" stroke-width="2.7"/>
<text x="617.3" y="576.4" font-size="18" stroke="#000" stroke-width="0.3" text-anchor="middle">***</text>
</g>
<g id="panel-k">
<text transform="translate(41.2 748.9) scale(0.88 1)" font-size="25" font-weight="bold" stroke="#000" stroke-width="0.4">k</text>
<rect x="86.85" y="731.25" width="18.7" height="13.9" fill="url(#p1)" stroke="#000" stroke-width="2.7"/>
<text transform="translate(116.4 744.8) scale(0.985 0.97)" font-size="19" stroke="#000" stroke-width="0.3">INS 0nM</text>
<rect x="86.85" y="750.35" width="18.7" height="13.9" fill="url(#p2)" stroke="#000" stroke-width="2.7"/>
<text transform="translate(116.4 763.9) scale(0.985 0.97)" font-size="19" stroke="#000" stroke-width="0.3">INS 100nM</text>
<rect x="86.85" y="769.45" width="18.7" height="13.9" fill="#fff" stroke="#000" stroke-width="2.7"/>
<line x1="86.5" y1="773.91" x2="105.9" y2="773.91" stroke="#000" stroke-width="1.4"/>
<line x1="86.5" y1="779.39" x2="105.9" y2="779.39" stroke="#000" stroke-width="1.4"/>
<text transform="translate(116.4 783) scale(0.985 0.97)" font-size="19" stroke="#000" stroke-width="0.3">INS 200nM</text>
<rect x="86.85" y="788.55" width="18.7" height="13.9" fill="#fff" stroke="#000" stroke-width="2.7"/>
<line x1="91.49" y1="788.2" x2="91.49" y2="802.8" stroke="#000" stroke-width="1.5"/>
<line x1="96.78" y1="788.2" x2="96.78" y2="802.8" stroke="#000" stroke-width="1.5"/>
<line x1="101.87" y1="788.2" x2="101.87" y2="802.8" stroke="#000" stroke-width="1.5"/>
<text transform="translate(116.4 802.1) scale(0.985 0.97)" font-size="19" stroke="#000" stroke-width="0.3">INS 500nM</text>
<path d="M83.3 971.5V913.6H95.7V971.5" fill="url(#p1)" stroke="#000" stroke-width="2.6" stroke-linejoin="miter"/>
<line x1="89.5" y1="911.5" x2="89.5" y2="913.3" stroke="#000" stroke-width="2.5"/>
<line x1="86.5" y1="912.9" x2="92.5" y2="912.9" stroke="#000" stroke-width="2.8"/>
<path d="M102.1 971.5V900.9H114.5V971.5" fill="url(#p2)" stroke="#000" stroke-width="2.6" stroke-linejoin="miter"/>
<line x1="108.3" y1="897.2" x2="108.3" y2="900.6" stroke="#000" stroke-width="2.5"/>
<line x1="105.05" y1="898.6" x2="111.55" y2="898.6" stroke="#000" stroke-width="2.8"/>
<path d="M120.9 971.5V896.5H133.3V971.5" fill="#fff" stroke="#000" stroke-width="2.6" stroke-linejoin="miter"/>
<path d="M122 966.65H132.2M122 961.26H132.2M122 955.87H132.2M122 950.48H132.2M122 945.09H132.2M122 939.7H132.2M122 934.31H132.2M122 928.92H132.2M122 923.53H132.2M122 918.14H132.2M122 912.75H132.2M122 907.36H132.2M122 901.97H132.2" stroke="#111" stroke-width="1.25" fill="none"/>
<line x1="127.1" y1="893.7" x2="127.1" y2="896.2" stroke="#000" stroke-width="2.5"/>
<line x1="124.1" y1="895.1" x2="130.1" y2="895.1" stroke="#000" stroke-width="2.8"/>
<path d="M139.7 971.5V881.4H152.1V971.5" fill="#fff" stroke="#000" stroke-width="2.6" stroke-linejoin="miter"/>
<path d="M144.28 882.5V971.5" stroke="#333" stroke-width="1.1" fill="none"/>
<path d="M149.72 882.5V971.5" stroke="#444" stroke-width="1.4" fill="none"/>
<line x1="145.9" y1="876.5" x2="145.9" y2="881.1" stroke="#000" stroke-width="2.5"/>
<line x1="142.65" y1="877.9" x2="149.15" y2="877.9" stroke="#000" stroke-width="2.8"/>
<path d="M170.9 971.5V898.8H183.3V971.5" fill="url(#p1)" stroke="#000" stroke-width="2.6" stroke-linejoin="miter"/>
<line x1="177.1" y1="896" x2="177.1" y2="898.5" stroke="#000" stroke-width="2.5"/>
<line x1="174.1" y1="897.4" x2="180.1" y2="897.4" stroke="#000" stroke-width="2.8"/>
<path d="M189.7 971.5V886H202.1V971.5" fill="url(#p2)" stroke="#000" stroke-width="2.6" stroke-linejoin="miter"/>
<line x1="195.9" y1="881.8" x2="195.9" y2="885.7" stroke="#000" stroke-width="2.5"/>
<line x1="192.65" y1="883.2" x2="199.15" y2="883.2" stroke="#000" stroke-width="2.8"/>
<path d="M208.5 971.5V853.1H220.9V971.5" fill="#fff" stroke="#000" stroke-width="2.6" stroke-linejoin="miter"/>
<path d="M209.6 966.65H219.8M209.6 961.26H219.8M209.6 955.87H219.8M209.6 950.48H219.8M209.6 945.09H219.8M209.6 939.7H219.8M209.6 934.31H219.8M209.6 928.92H219.8M209.6 923.53H219.8M209.6 918.14H219.8M209.6 912.75H219.8M209.6 907.36H219.8M209.6 901.97H219.8M209.6 896.58H219.8M209.6 891.19H219.8M209.6 885.8H219.8M209.6 880.41H219.8M209.6 875.02H219.8M209.6 869.63H219.8M209.6 864.24H219.8M209.6 858.85H219.8" stroke="#111" stroke-width="1.25" fill="none"/>
<line x1="214.7" y1="849.6" x2="214.7" y2="852.8" stroke="#000" stroke-width="2.5"/>
<line x1="211.45" y1="851" x2="217.95" y2="851" stroke="#000" stroke-width="2.8"/>
<path d="M227.3 971.5V834.1H239.7V971.5" fill="#fff" stroke="#000" stroke-width="2.6" stroke-linejoin="miter"/>
<path d="M231.88 835.2V971.5" stroke="#333" stroke-width="1.1" fill="none"/>
<path d="M237.32 835.2V971.5" stroke="#444" stroke-width="1.4" fill="none"/>
<line x1="233.5" y1="829.9" x2="233.5" y2="833.8" stroke="#000" stroke-width="2.5"/>
<line x1="230.75" y1="831.3" x2="236.25" y2="831.3" stroke="#000" stroke-width="2.8"/>
<path d="M258.5 971.5V893.3H270.9V971.5" fill="url(#p1)" stroke="#000" stroke-width="2.6" stroke-linejoin="miter"/>
<line x1="264.7" y1="890.6" x2="264.7" y2="893" stroke="#000" stroke-width="2.5"/>
<line x1="261.7" y1="892" x2="267.7" y2="892" stroke="#000" stroke-width="2.8"/>
<path d="M277.3 971.5V871.7H289.7V971.5" fill="url(#p2)" stroke="#000" stroke-width="2.6" stroke-linejoin="miter"/>
<line x1="283.5" y1="867.3" x2="283.5" y2="871.4" stroke="#000" stroke-width="2.5"/>
<line x1="280.5" y1="868.7" x2="286.5" y2="868.7" stroke="#000" stroke-width="2.8"/>
<path d="M296.1 971.5V837.4H308.5V971.5" fill="#fff" stroke="#000" stroke-width="2.6" stroke-linejoin="miter"/>
<path d="M297.2 966.65H307.4M297.2 961.26H307.4M297.2 955.87H307.4M297.2 950.48H307.4M297.2 945.09H307.4M297.2 939.7H307.4M297.2 934.31H307.4M297.2 928.92H307.4M297.2 923.53H307.4M297.2 918.14H307.4M297.2 912.75H307.4M297.2 907.36H307.4M297.2 901.97H307.4M297.2 896.58H307.4M297.2 891.19H307.4M297.2 885.8H307.4M297.2 880.41H307.4M297.2 875.02H307.4M297.2 869.63H307.4M297.2 864.24H307.4M297.2 858.85H307.4M297.2 853.46H307.4M297.2 848.07H307.4M297.2 842.68H307.4" stroke="#111" stroke-width="1.25" fill="none"/>
<line x1="302.3" y1="833.6" x2="302.3" y2="837.1" stroke="#000" stroke-width="2.5"/>
<line x1="299.15" y1="835" x2="305.45" y2="835" stroke="#000" stroke-width="2.8"/>
<path d="M314.9 971.5V822.1H327.3V971.5" fill="#fff" stroke="#000" stroke-width="2.6" stroke-linejoin="miter"/>
<path d="M319.48 823.2V971.5" stroke="#333" stroke-width="1.1" fill="none"/>
<path d="M324.93 823.2V971.5" stroke="#444" stroke-width="1.4" fill="none"/>
<line x1="321.1" y1="819.3" x2="321.1" y2="821.8" stroke="#000" stroke-width="2.5"/>
<line x1="317.85" y1="820.7" x2="324.35" y2="820.7" stroke="#000" stroke-width="2.8"/>
<line x1="74.1" y1="805.5" x2="74.1" y2="972.5" stroke="#000" stroke-width="2.2"/>
<line x1="73.1" y1="971.5" x2="336" y2="971.5" stroke="#000" stroke-width="2.2"/>
<line x1="68.6" y1="971.5" x2="74.1" y2="971.5" stroke="#000" stroke-width="2"/>
<text x="66.1" y="978.2" font-size="19" font-weight="bold" stroke="#000" stroke-width="0.45" text-anchor="end">0.0</text>
<line x1="68.6" y1="938.5" x2="74.1" y2="938.5" stroke="#000" stroke-width="2"/>
<text x="66.1" y="945.2" font-size="19" font-weight="bold" stroke="#000" stroke-width="0.45" text-anchor="end">0.5</text>
<line x1="68.6" y1="905.5" x2="74.1" y2="905.5" stroke="#000" stroke-width="2"/>
<text x="66.1" y="912.2" font-size="19" font-weight="bold" stroke="#000" stroke-width="0.45" text-anchor="end">1.0</text>
<line x1="68.6" y1="872.5" x2="74.1" y2="872.5" stroke="#000" stroke-width="2"/>
<text x="66.1" y="879.2" font-size="19" font-weight="bold" stroke="#000" stroke-width="0.45" text-anchor="end">1.5</text>
<line x1="68.6" y1="839.5" x2="74.1" y2="839.5" stroke="#000" stroke-width="2"/>
<text x="66.1" y="846.2" font-size="19" font-weight="bold" stroke="#000" stroke-width="0.45" text-anchor="end">2.0</text>
<line x1="68.6" y1="806.5" x2="74.1" y2="806.5" stroke="#000" stroke-width="2"/>
<text x="66.1" y="813.2" font-size="19" font-weight="bold" stroke="#000" stroke-width="0.45" text-anchor="end">2.5</text>
<line x1="117.3" y1="971.5" x2="117.3" y2="976.8" stroke="#000" stroke-width="2.1"/>
<text x="119.6" y="988.8" font-size="16" font-weight="bold" stroke="#000" stroke-width="0.6" text-anchor="end" transform="rotate(-45 119.6 988.8)">6h</text>
<line x1="205" y1="971.5" x2="205" y2="976.8" stroke="#000" stroke-width="2.1"/>
<text x="207.3" y="988.8" font-size="16" font-weight="bold" stroke="#000" stroke-width="0.6" text-anchor="end" transform="rotate(-45 207.3 988.8)">12h</text>
<line x1="292.7" y1="971.5" x2="292.7" y2="976.8" stroke="#000" stroke-width="2.1"/>
<text x="295" y="988.8" font-size="16" font-weight="bold" stroke="#000" stroke-width="0.6" text-anchor="end" transform="rotate(-45 295 988.8)">24h</text>
<text x="32" y="885.5" font-size="16.5" font-weight="bold" stroke="#000" stroke-width="0.45" text-anchor="middle" transform="rotate(-90 32 885.5)" textLength="217.2" lengthAdjust="spacingAndGlyphs">MMP-9 Concentration(pg/ml)</text>
<line x1="87.9" y1="865.1" x2="144.5" y2="865.1" stroke="#000" stroke-width="2.7"/>
<line x1="87.9" y1="858.2" x2="87.9" y2="898.4" stroke="#000" stroke-width="2.7"/>
<line x1="144.5" y1="858.2" x2="144.5" y2="872.4" stroke="#000" stroke-width="2.7"/>
<text x="117.1" y="869.4" font-size="18" stroke="#000" stroke-width="0.3" text-anchor="middle">**</text>
<line x1="87.9" y1="878.2" x2="126.3" y2="878.2" stroke="#000" stroke-width="2.7"/>
<line x1="126.3" y1="870.9" x2="126.3" y2="885.5" stroke="#000" stroke-width="2.7"/>
<text x="108.3" y="883.4" font-size="18" stroke="#000" stroke-width="0.3" text-anchor="middle">**</text>
<line x1="87.9" y1="891.1" x2="108.7" y2="891.1" stroke="#000" stroke-width="2.7"/>
<line x1="108.7" y1="884.2" x2="108.7" y2="900" stroke="#000" stroke-width="2.7"/>
<text x="99.5" y="896.5" font-size="18" stroke="#000" stroke-width="0.3" text-anchor="middle">*</text>
<line x1="178" y1="824.1" x2="231.2" y2="824.1" stroke="#000" stroke-width="2.7"/>
<line x1="178" y1="817.1" x2="178" y2="831.4" stroke="#000" stroke-width="2.7"/>
<line x1="231.2" y1="817.1" x2="231.2" y2="833.5" stroke="#000" stroke-width="2.7"/>
<text x="206.4" y="828.8" font-size="18" stroke="#000" stroke-width="0.3" text-anchor="middle">***</text>
<line x1="178" y1="842.3" x2="212.6" y2="842.3" stroke="#000" stroke-width="2.7"/>
<line x1="178" y1="835" x2="178" y2="849.6" stroke="#000" stroke-width="2.7"/>
<line x1="212.6" y1="835" x2="212.6" y2="852.5" stroke="#000" stroke-width="2.7"/>
<text x="198.4" y="846.9" font-size="18" stroke="#000" stroke-width="0.3" text-anchor="middle">***</text>
<line x1="177.1" y1="876.2" x2="194.6" y2="876.2" stroke="#000" stroke-width="2.7"/>
<line x1="177.1" y1="869.3" x2="177.1" y2="883.6" stroke="#000" stroke-width="2.7"/>
<line x1="194.6" y1="869.3" x2="194.6" y2="885.3" stroke="#000" stroke-width="2.7"/>
<text x="187.7" y="880.9" font-size="18" stroke="#000" stroke-width="0.3" text-anchor="middle">*</text>
<line x1="261.7" y1="812.9" x2="317.5" y2="812.9" stroke="#000" stroke-width="2.7"/>
<line x1="261.7" y1="806" x2="261.7" y2="833.6" stroke="#000" stroke-width="2.7"/>
<line x1="317.5" y1="806" x2="317.5" y2="821.5" stroke="#000" stroke-width="2.7"/>
<text x="290.8" y="817.3" font-size="18" stroke="#000" stroke-width="0.3" text-anchor="middle">***</text>
<line x1="261.7" y1="825.8" x2="300.1" y2="825.8" stroke="#000" stroke-width="2.7"/>
<line x1="300.1" y1="819" x2="300.1" y2="836.8" stroke="#000" stroke-width="2.7"/>
<text x="283.2" y="831.2" font-size="18" stroke="#000" stroke-width="0.3" text-anchor="middle">***</text>
<line x1="262.5" y1="860.8" x2="282.6" y2="860.8" stroke="#000" stroke-width="2.7"/>
<line x1="262.5" y1="854.4" x2="262.5" y2="868.7" stroke="#000" stroke-width="2.7"/>
<line x1="282.6" y1="854.4" x2="282.6" y2="871" stroke="#000" stroke-width="2.7"/>
<text x="273.3" y="865.2" font-size="18" stroke="#000" stroke-width="0.3" text-anchor="middle">**</text>
</g>
<g id="panel-l">
<text transform="translate(406.2 747.6) scale(0.85 1)" font-size="26" font-weight="bold" stroke="#000" stroke-width="0.4">l</text>
<rect x="443.05" y="731.35" width="17.5" height="13.7" fill="url(#p1)" stroke="#000" stroke-width="2.7"/>
<text transform="translate(470.4 744.7) scale(0.93 0.97)" font-size="19" stroke="#000" stroke-width="0.3">INS 0nM</text>
<rect x="443.05" y="750.45" width="17.5" height="13.7" fill="url(#p2)" stroke="#000" stroke-width="2.7"/>
<text transform="translate(470.4 763.8) scale(0.93 0.97)" font-size="19" stroke="#000" stroke-width="0.3">INS 100nM</text>
<rect x="443.05" y="769.55" width="17.5" height="13.7" fill="#fff" stroke="#000" stroke-width="2.7"/>
<line x1="442.7" y1="773.94" x2="460.9" y2="773.94" stroke="#000" stroke-width="1.4"/>
<line x1="442.7" y1="779.35" x2="460.9" y2="779.35" stroke="#000" stroke-width="1.4"/>
<text transform="translate(470.4 782.9) scale(0.93 0.97)" font-size="19" stroke="#000" stroke-width="0.3">INS 200nM</text>
<rect x="443.05" y="788.65" width="17.5" height="13.7" fill="#fff" stroke="#000" stroke-width="2.7"/>
<line x1="447.36" y1="788.3" x2="447.36" y2="802.7" stroke="#000" stroke-width="1.5"/>
<line x1="452.35" y1="788.3" x2="452.35" y2="802.7" stroke="#000" stroke-width="1.5"/>
<line x1="457.15" y1="788.3" x2="457.15" y2="802.7" stroke="#000" stroke-width="1.5"/>
<text transform="translate(470.4 802) scale(0.93 0.97)" font-size="19" stroke="#000" stroke-width="0.3">INS 500nM</text>
<path d="M439.4 971.5V905.3H451.1V971.5" fill="url(#p1)" stroke="#000" stroke-width="2.6" stroke-linejoin="miter"/>
<line x1="445.25" y1="903.2" x2="445.25" y2="905" stroke="#000" stroke-width="2.5"/>
<line x1="442.5" y1="904.6" x2="448" y2="904.6" stroke="#000" stroke-width="2.8"/>
<path d="M457.25 971.5V902.4H468.95V971.5" fill="url(#p2)" stroke="#000" stroke-width="2.6" stroke-linejoin="miter"/>
<line x1="463.1" y1="900" x2="463.1" y2="902.1" stroke="#000" stroke-width="2.5"/>
<line x1="460.35" y1="901.4" x2="465.85" y2="901.4" stroke="#000" stroke-width="2.8"/>
<path d="M475.1 971.5V885.6H486.8V971.5" fill="#fff" stroke="#000" stroke-width="2.6" stroke-linejoin="miter"/>
<path d="M476.2 966.65H485.7M476.2 961.26H485.7M476.2 955.87H485.7M476.2 950.48H485.7M476.2 945.09H485.7M476.2 939.7H485.7M476.2 934.31H485.7M476.2 928.92H485.7M476.2 923.53H485.7M476.2 918.14H485.7M476.2 912.75H485.7M476.2 907.36H485.7M476.2 901.97H485.7M476.2 896.58H485.7M476.2 891.19H485.7" stroke="#111" stroke-width="1.25" fill="none"/>
<line x1="480.95" y1="881.3" x2="480.95" y2="885.3" stroke="#000" stroke-width="2.5"/>
<line x1="477.95" y1="882.7" x2="483.95" y2="882.7" stroke="#000" stroke-width="2.8"/>
<path d="M492.95 971.5V869.8H504.65V971.5" fill="#fff" stroke="#000" stroke-width="2.6" stroke-linejoin="miter"/>
<path d="M497.26 870.9V971.5" stroke="#333" stroke-width="1.1" fill="none"/>
<path d="M502.45 870.9V971.5" stroke="#444" stroke-width="1.4" fill="none"/>
<line x1="498.8" y1="865.9" x2="498.8" y2="869.5" stroke="#000" stroke-width="2.5"/>
<line x1="495.8" y1="867.3" x2="501.8" y2="867.3" stroke="#000" stroke-width="2.8"/>
<path d="M522.1 971.5V906.1H533.8V971.5" fill="url(#p1)" stroke="#000" stroke-width="2.6" stroke-linejoin="miter"/>
<line x1="527.95" y1="901.7" x2="527.95" y2="905.8" stroke="#000" stroke-width="2.5"/>
<line x1="524.95" y1="903.1" x2="530.95" y2="903.1" stroke="#000" stroke-width="2.8"/>
<path d="M539.95 971.5V886.9H551.65V971.5" fill="url(#p2)" stroke="#000" stroke-width="2.6" stroke-linejoin="miter"/>
<line x1="545.8" y1="883.3" x2="545.8" y2="886.6" stroke="#000" stroke-width="2.5"/>
<line x1="542.8" y1="884.7" x2="548.8" y2="884.7" stroke="#000" stroke-width="2.8"/>
<path d="M557.8 971.5V868.5H569.5V971.5" fill="#fff" stroke="#000" stroke-width="2.6" stroke-linejoin="miter"/>
<path d="M558.9 966.65H568.4M558.9 961.26H568.4M558.9 955.87H568.4M558.9 950.48H568.4M558.9 945.09H568.4M558.9 939.7H568.4M558.9 934.31H568.4M558.9 928.92H568.4M558.9 923.53H568.4M558.9 918.14H568.4M558.9 912.75H568.4M558.9 907.36H568.4M558.9 901.97H568.4M558.9 896.58H568.4M558.9 891.19H568.4M558.9 885.8H568.4M558.9 880.41H568.4M558.9 875.02H568.4" stroke="#111" stroke-width="1.25" fill="none"/>
<line x1="563.65" y1="864.9" x2="563.65" y2="868.2" stroke="#000" stroke-width="2.5"/>
<line x1="560.65" y1="866.3" x2="566.65" y2="866.3" stroke="#000" stroke-width="2.8"/>
<path d="M575.65 971.5V851.5H587.35V971.5" fill="#fff" stroke="#000" stroke-width="2.6" stroke-linejoin="miter"/>
<path d="M579.96 852.6V971.5" stroke="#333" stroke-width="1.1" fill="none"/>
<path d="M585.15 852.6V971.5" stroke="#444" stroke-width="1.4" fill="none"/>
<line x1="581.5" y1="847.9" x2="581.5" y2="851.2" stroke="#000" stroke-width="2.5"/>
<line x1="578.75" y1="849.3" x2="584.25" y2="849.3" stroke="#000" stroke-width="2.8"/>
<path d="M604.8 971.5V895.3H616.5V971.5" fill="url(#p1)" stroke="#000" stroke-width="2.6" stroke-linejoin="miter"/>
<line x1="610.65" y1="892.4" x2="610.65" y2="895" stroke="#000" stroke-width="2.5"/>
<line x1="607.9" y1="893.8" x2="613.4" y2="893.8" stroke="#000" stroke-width="2.8"/>
<path d="M622.65 971.5V870.6H634.35V971.5" fill="url(#p2)" stroke="#000" stroke-width="2.6" stroke-linejoin="miter"/>
<line x1="628.5" y1="868" x2="628.5" y2="870.3" stroke="#000" stroke-width="2.5"/>
<line x1="625.75" y1="869.4" x2="631.25" y2="869.4" stroke="#000" stroke-width="2.8"/>
<path d="M640.5 971.5V850.9H652.2V971.5" fill="#fff" stroke="#000" stroke-width="2.6" stroke-linejoin="miter"/>
<path d="M641.6 966.65H651.1M641.6 961.26H651.1M641.6 955.87H651.1M641.6 950.48H651.1M641.6 945.09H651.1M641.6 939.7H651.1M641.6 934.31H651.1M641.6 928.92H651.1M641.6 923.53H651.1M641.6 918.14H651.1M641.6 912.75H651.1M641.6 907.36H651.1M641.6 901.97H651.1M641.6 896.58H651.1M641.6 891.19H651.1M641.6 885.8H651.1M641.6 880.41H651.1M641.6 875.02H651.1M641.6 869.63H651.1M641.6 864.24H651.1M641.6 858.85H651.1M641.6 853.46H651.1" stroke="#111" stroke-width="1.25" fill="none"/>
<line x1="646.35" y1="848.3" x2="646.35" y2="850.6" stroke="#000" stroke-width="2.5"/>
<line x1="643.6" y1="849.7" x2="649.1" y2="849.7" stroke="#000" stroke-width="2.8"/>
<path d="M658.35 971.5V821.5H670.05V971.5" fill="#fff" stroke="#000" stroke-width="2.6" stroke-linejoin="miter"/>
<path d="M662.66 822.6V971.5" stroke="#333" stroke-width="1.1" fill="none"/>
<path d="M667.85 822.6V971.5" stroke="#444" stroke-width="1.4" fill="none"/>
<line x1="664.2" y1="817" x2="664.2" y2="821.2" stroke="#000" stroke-width="2.5"/>
<line x1="661.45" y1="818.4" x2="666.95" y2="818.4" stroke="#000" stroke-width="2.8"/>
<line x1="431.2" y1="805.5" x2="431.2" y2="972.5" stroke="#000" stroke-width="2.2"/>
<line x1="430.2" y1="971.5" x2="679" y2="971.5" stroke="#000" stroke-width="2.2"/>
<line x1="425.7" y1="971.5" x2="431.2" y2="971.5" stroke="#000" stroke-width="2"/>
<text transform="translate(423.2 978.2) scale(0.9 1)" font-size="18.8" font-weight="bold" stroke="#000" stroke-width="0.45" text-anchor="end">0.0</text>
<line x1="425.7" y1="930.25" x2="431.2" y2="930.25" stroke="#000" stroke-width="2"/>
<text transform="translate(423.2 936.95) scale(0.9 1)" font-size="18.8" font-weight="bold" stroke="#000" stroke-width="0.45" text-anchor="end">0.5</text>
<line x1="425.7" y1="889" x2="431.2" y2="889" stroke="#000" stroke-width="2"/>
<text transform="translate(423.2 895.7) scale(0.9 1)" font-size="18.8" font-weight="bold" stroke="#000" stroke-width="0.45" text-anchor="end">1.0</text>
<line x1="425.7" y1="847.75" x2="431.2" y2="847.75" stroke="#000" stroke-width="2"/>
<text transform="translate(423.2 854.45) scale(0.9 1)" font-size="18.8" font-weight="bold" stroke="#000" stroke-width="0.45" text-anchor="end">1.5</text>
<line x1="425.7" y1="806.5" x2="431.2" y2="806.5" stroke="#000" stroke-width="2"/>
<text transform="translate(423.2 813.2) scale(0.9 1)" font-size="18.8" font-weight="bold" stroke="#000" stroke-width="0.45" text-anchor="end">2.0</text>
<line x1="472" y1="971.5" x2="472" y2="976.8" stroke="#000" stroke-width="2.1"/>
<text x="474.3" y="988.8" font-size="16" font-weight="bold" stroke="#000" stroke-width="0.6" text-anchor="end" transform="rotate(-45 474.3 988.8)">6h</text>
<line x1="554.5" y1="971.5" x2="554.5" y2="976.8" stroke="#000" stroke-width="2.1"/>
<text x="556.8" y="988.8" font-size="16" font-weight="bold" stroke="#000" stroke-width="0.6" text-anchor="end" transform="rotate(-45 556.8 988.8)">12h</text>
<line x1="637" y1="971.5" x2="637" y2="976.8" stroke="#000" stroke-width="2.1"/>
<text x="639.3" y="988.8" font-size="16" font-weight="bold" stroke="#000" stroke-width="0.6" text-anchor="end" transform="rotate(-45 639.3 988.8)">24h</text>
<text x="391.6" y="882.1" font-size="15.8" font-weight="bold" stroke="#000" stroke-width="0.45" text-anchor="middle" transform="rotate(-90 391.6 882.1)" textLength="220.7" lengthAdjust="spacingAndGlyphs">MMP-13 Concentration(pg/ml)</text>
<line x1="446.2" y1="858.9" x2="497.4" y2="858.9" stroke="#000" stroke-width="2.7"/>
<line x1="446.2" y1="851.8" x2="446.2" y2="881.3" stroke="#000" stroke-width="2.7"/>
<line x1="497.4" y1="851.8" x2="497.4" y2="869.2" stroke="#000" stroke-width="2.7"/>
<text x="474" y="861.17" font-size="17" stroke="#000" stroke-width="0.3" text-anchor="middle">***</text>
<line x1="446.2" y1="874" x2="480.2" y2="874" stroke="#000" stroke-width="2.7"/>
<line x1="480.2" y1="866.9" x2="480.2" y2="885" stroke="#000" stroke-width="2.7"/>
<text x="464.8" y="876.97" font-size="17" stroke="#000" stroke-width="0.3" text-anchor="middle">**</text>
<line x1="445.4" y1="892.8" x2="462.6" y2="892.8" stroke="#000" stroke-width="2.7"/>
<line x1="445.4" y1="886.5" x2="445.4" y2="900.7" stroke="#000" stroke-width="2.7"/>
<line x1="462.6" y1="886.5" x2="462.6" y2="901.8" stroke="#000" stroke-width="2.7"/>
<text x="455.6" y="896.77" font-size="17" stroke="#000" stroke-width="0.3" text-anchor="middle">*</text>
<line x1="526.4" y1="842.3" x2="580" y2="842.3" stroke="#000" stroke-width="2.7"/>
<line x1="526.4" y1="834.7" x2="526.4" y2="848.9" stroke="#000" stroke-width="2.7"/>
<line x1="580" y1="834.7" x2="580" y2="851" stroke="#000" stroke-width="2.7"/>
<text x="553.6" y="844.87" font-size="17" stroke="#000" stroke-width="0.3" text-anchor="middle">***</text>
<line x1="526.4" y1="858.1" x2="561.9" y2="858.1" stroke="#000" stroke-width="2.7"/>
<line x1="526.4" y1="851.1" x2="526.4" y2="865.6" stroke="#000" stroke-width="2.7"/>
<line x1="561.9" y1="851.1" x2="561.9" y2="868" stroke="#000" stroke-width="2.7"/>
<text x="546.1" y="860.87" font-size="17" stroke="#000" stroke-width="0.3" text-anchor="middle">***</text>
<line x1="525.5" y1="877.8" x2="544.4" y2="877.8" stroke="#000" stroke-width="2.7"/>
<line x1="525.5" y1="870.8" x2="525.5" y2="885.3" stroke="#000" stroke-width="2.7"/>
<line x1="544.4" y1="870.8" x2="544.4" y2="886.3" stroke="#000" stroke-width="2.7"/>
<text x="536.5" y="881.97" font-size="17" stroke="#000" stroke-width="0.3" text-anchor="middle">*</text>
<line x1="607.3" y1="809.4" x2="661.8" y2="809.4" stroke="#000" stroke-width="2.7"/>
<line x1="607.3" y1="802.5" x2="607.3" y2="817" stroke="#000" stroke-width="2.7"/>
<line x1="661.8" y1="802.5" x2="661.8" y2="821" stroke="#000" stroke-width="2.7"/>
<text x="635.8" y="812.57" font-size="17" stroke="#000" stroke-width="0.3" text-anchor="middle">***</text>
<line x1="607.3" y1="842" x2="644.5" y2="842" stroke="#000" stroke-width="2.7"/>
<line x1="607.3" y1="835.4" x2="607.3" y2="849.4" stroke="#000" stroke-width="2.7"/>
<line x1="644.5" y1="835.4" x2="644.5" y2="850.3" stroke="#000" stroke-width="2.7"/>
<text x="627.4" y="845.17" font-size="17" stroke="#000" stroke-width="0.3" text-anchor="middle">***</text>
<line x1="608" y1="861.8" x2="626.3" y2="861.8" stroke="#000" stroke-width="2.7"/>
<line x1="608" y1="855.2" x2="608" y2="869.5" stroke="#000" stroke-width="2.7"/>
<line x1="626.3" y1="855.2" x2="626.3" y2="870" stroke="#000" stroke-width="2.7"/>
<text x="618.4" y="864.17" font-size="17" stroke="#000" stroke-width="0.3" text-anchor="middle">**</text>
</g>
</svg>
</body>
</html>
